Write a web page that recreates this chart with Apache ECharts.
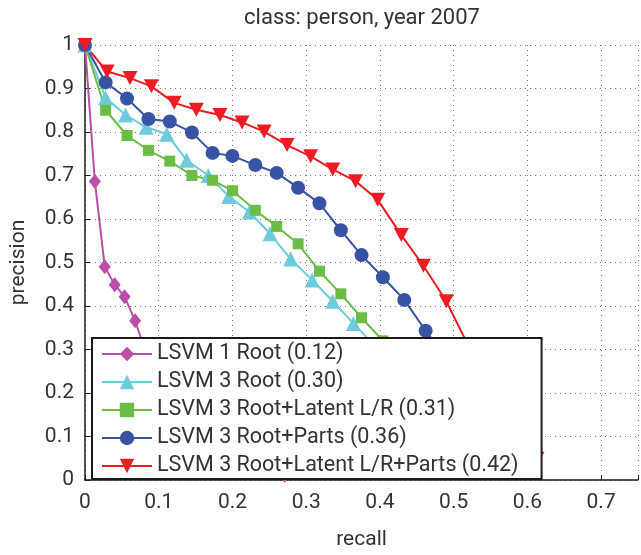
<!DOCTYPE html>
<html>
<head>
<meta charset="utf-8">
<script src="https://cdn.jsdelivr.net/npm/echarts@6/dist/echarts.min.js"></script>
<style>
  html, body { margin: 0; padding: 0; background: #fff; }
  #main { width: 641px; height: 555px; }
</style>
</head>
<body>
<div id="main"></div>
<script>
// 数据：每条曲线的 recall / precision
var seriesNames = [
  'LSVM 1 Root (0.12)',
  'LSVM 3 Root (0.30)',
  'LSVM 3 Root+Latent L/R (0.31)',
  'LSVM 3 Root+Parts (0.36)',
  'LSVM 3 Root+Latent L/R+Parts (0.42)'
];
var seriesColors = ['#b94fa6', '#6ccbdc', '#6cbd45', '#3753a4', '#ec1c24'];

var root1Recall = [0, 0.0134, 0.0268, 0.0403, 0.0537, 0.068, 0.081, 0.095, 0.108, 0.122, 0.135, 0.149, 0.162, 0.176, 0.19, 0.203, 0.217, 0.23, 0.244, 0.257, 0.271];
var root1Prec   = [1, 0.686, 0.49, 0.449, 0.421, 0.366, 0.30, 0.26, 0.23, 0.20, 0.18, 0.16, 0.14, 0.12, 0.105, 0.09, 0.075, 0.06, 0.045, 0.03, 0.011];

var root3Recall = [0, 0.028, 0.055, 0.083, 0.111, 0.138, 0.167, 0.195, 0.223, 0.251, 0.279, 0.308, 0.336, 0.364, 0.392, 0.42, 0.447, 0.475];
var root3Prec   = [1, 0.879, 0.839, 0.811, 0.795, 0.735, 0.70, 0.652, 0.616, 0.566, 0.508, 0.46, 0.411, 0.36, 0.31, 0.26, 0.215, 0.17];

var latentRecall = [0, 0.028, 0.057, 0.086, 0.115, 0.145, 0.173, 0.20, 0.231, 0.26, 0.289, 0.318, 0.347, 0.375, 0.404, 0.433, 0.462, 0.491];
var latentPrec   = [1, 0.85, 0.792, 0.758, 0.733, 0.70, 0.689, 0.665, 0.62, 0.583, 0.543, 0.48, 0.428, 0.373, 0.32, 0.27, 0.22, 0.17];

var partsRecall = [0, 0.028, 0.057, 0.086, 0.115, 0.145, 0.173, 0.20, 0.231, 0.26, 0.289, 0.318, 0.347, 0.375, 0.404, 0.433, 0.462, 0.491, 0.52, 0.549];
var partsPrec   = [1, 0.914, 0.877, 0.83, 0.824, 0.799, 0.752, 0.745, 0.724, 0.706, 0.672, 0.636, 0.574, 0.517, 0.466, 0.414, 0.343, 0.28, 0.22, 0.16];

var allRecall = [0, 0.030, 0.061, 0.09, 0.121, 0.151, 0.183, 0.213, 0.243, 0.274, 0.306, 0.336, 0.367, 0.397, 0.429, 0.459, 0.49, 0.521, 0.551, 0.582, 0.613];
var allPrec   = [1, 0.939, 0.924, 0.905, 0.867, 0.851, 0.839, 0.822, 0.801, 0.77, 0.744, 0.714, 0.687, 0.644, 0.563, 0.4925, 0.411, 0.305, 0.23, 0.15, 0.049];

var xTicks = ['0', '0.1', '0.2', '0.3', '0.4', '0.5', '0.6', '0.7'];
var yTicks = ['0', '0.1', '0.2', '0.3', '0.4', '0.5', '0.6', '0.7', '0.8', '0.9', '1'];

var curves = [
  { r: root1Recall, p: root1Prec, symbol: 'diamond', size: [12, 15] },
  { r: root3Recall, p: root3Prec, symbol: 'triangle', size: 15 },
  { r: latentRecall, p: latentPrec, symbol: 'rect', size: 11 },
  { r: partsRecall, p: partsPrec, symbol: 'circle', size: 14 },
  { r: allRecall, p: allPrec, symbol: 'path://M0,0L10,0L5,9Z', size: [15, 14] }
];

var font = 'Roboto, "Noto Sans", sans-serif';
var textColor = '#333';

function tickText(list, v) {
  var s = (Math.round(v * 10) / 10).toString();
  return list.indexOf(s) >= 0 ? s : '';
}

var myChart = echarts.init(document.getElementById('main'), null, { renderer: 'canvas' });

var option = {
  backgroundColor: '#fff',
  animation: false,
  title: {
    text: 'class: person, year 2007',
    left: 358,
    top: 3,
    padding: 4,
    textAlign: 'center',
    textStyle: { fontFamily: font, fontSize: 22, fontWeight: 'normal', color: textColor }
  },
  grid: { left: 84, top: 45, right: -2, bottom: 70, containLabel: false },
  legend: {
    orient: 'vertical',
    left: 92,
    top: 338,
    padding: [5, 23, 2, 9],
    backgroundColor: '#fff',
    borderColor: '#1a1a1a',
    borderWidth: 2,
    borderRadius: 0,
    itemWidth: 50,
    itemHeight: 18,
    itemGap: 6,
    z: 10,
    textStyle: { fontFamily: font, fontSize: 21.5, color: textColor },
    data: seriesNames
  },
  xAxis: {
    type: 'value',
    min: 0,
    max: 0.75,
    interval: 0.1,
    name: 'recall',
    nameLocation: 'middle',
    nameGap: 49,
    nameTextStyle: { fontFamily: font, fontSize: 21, color: textColor },
    axisLine: { show: true, lineStyle: { color: '#1a1a1a', width: 1.5 } },
    axisTick: { show: true, inside: true, length: 5, lineStyle: { color: '#1a1a1a' } },
    axisLabel: {
      margin: 12,
      fontFamily: font, fontSize: 21, color: textColor,
      formatter: function (v) { return tickText(xTicks, v); }
    },
    splitLine: { show: true, lineStyle: { color: '#777', width: 1, type: [1, 4] } }
  },
  yAxis: {
    type: 'value',
    min: 0,
    max: 1,
    interval: 0.1,
    name: 'precision',
    nameLocation: 'middle',
    nameGap: 56,
    nameTextStyle: { fontFamily: font, fontSize: 21, color: textColor },
    axisLine: { show: true, lineStyle: { color: '#1a1a1a', width: 1.5 } },
    axisTick: { show: true, inside: true, length: 5, lineStyle: { color: '#1a1a1a' } },
    axisLabel: {
      margin: 11,
      fontFamily: font, fontSize: 21, color: textColor,
      formatter: function (v) { return tickText(yTicks, v); }
    },
    splitLine: { show: true, lineStyle: { color: '#777', width: 1, type: [1, 4] } }
  },
  series: curves.map(function (c, i) {
    return {
      name: seriesNames[i],
      type: 'line',
      data: c.r.map(function (r, k) { return [r, c.p[k]]; }),
      symbol: c.symbol,
      symbolSize: c.size,
      showAllSymbol: true,
      z: 2,
      lineStyle: { color: seriesColors[i], width: 2 },
      itemStyle: { color: seriesColors[i] }
    };
  })
};

myChart.setOption(option);
</script>
</body>
</html>
